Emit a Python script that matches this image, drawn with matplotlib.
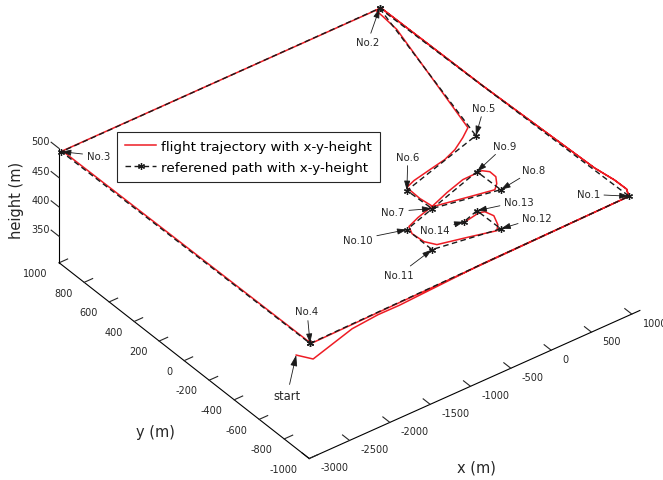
import matplotlib
matplotlib.use("Agg")
import matplotlib.pyplot as plt
from mpl_toolkits.mplot3d import proj3d

plt.rcParams["font.family"] = ["DejaVu Sans"]
plt.rcParams["axes.unicode_minus"] = False

# ---- waypoints of the planned route (metres) ----
wp_names = ["No.1", "No.2", "No.3", "No.4", "No.5", "No.6", "No.7",
            "No.8", "No.9", "No.10", "No.11", "No.12", "No.13", "No.14"]
wp_x = [1045, 970, -2985, -2955, 446, -651, -635, 98, 91, -1044, -1048, -295, -302, -515]
wp_y = [-950, 998, 992, -978, -110, -266, -456, -534, -347, -520, -723, -788, -601, -635]
wp_z = [495, 495, 495, 495, 495, 495, 495, 495, 495, 495, 495, 495, 495, 495]

# order in which the reference path visits the waypoints
ref_outer = ["No.4", "No.1", "No.2", "No.3", "No.4"]
ref_inner = ["No.2", "No.5", "No.6", "No.7", "No.8", "No.9", "No.10",
             "No.11", "No.12", "No.13", "No.14"]

# ---- recorded flight trajectory (metres) ----
fly_x = [-2946, -2911, -2387, -2100, -1865, -800, 1040, 1097, 1093, 1057, 1003, 985,
         -2969, -2948, -2921, -800, 1040, 1097, 1093, 1057, 1003, 985,
         920, 914, 893, 464, 323, 140, -40, -258, -495, -621,
         -629, -607, -216, 51, 127, 190, 193, 140, -100, -356, -597, -836, -998,
         -1045, -1031, -959, -619, -346, -278, -219, -249, -307, -437, -507]
fly_y = [-861, -974, -948, -970, -990, -962, -950, -896, -802, -666, 200, 996,
         994, -951, -981, -965, -950, -896, -802, -666, 200, 996,
         996, 937, 811, -35, -85, -140, -175, -197, -222, -246,
         -356, -446, -489, -517, -483, -435, -385, -355, -358, -396, -440, -474, -506,
         -561, -648, -705, -750, -789, -753, -683, -631, -620, -632, -638]
fly_z = [455, 465, 480, 490, 495, 495, 495, 495, 495, 495, 495, 495,
         495, 495, 495, 495, 495, 495, 495, 495, 495, 495,
         495, 495, 495, 495, 495, 495, 495, 495, 495, 495,
         495, 495, 495, 495, 495, 495, 495, 495, 495, 495, 495, 495, 495,
         495, 495, 495, 495, 495, 495, 495, 495, 495, 495, 495]

x_ticks = [-3000, -2500, -2000, -1500, -1000, -500, 0, 500, 1000]
y_ticks = [-1000, -800, -600, -400, -200, 0, 200, 400, 600, 800, 1000]
z_ticks = [350, 400, 450, 500]

# label placement (offset of the text from the marked point, in points)
label_offsets = {
    "No.1": (-29.5, 1.4), "No.2": (-8.6, -24.5), "No.3": (26.6, -2.9),
    "No.4": (-2.2, 23.0), "No.5": (5.8, 20.2), "No.6": (0.7, 24.5),
    "No.7": (-28.0, -2.2), "No.8": (23.8, 14.4), "No.9": (20.2, 18.7),
    "No.10": (-35.3, -7.2), "No.11": (-23.8, -18.0), "No.12": (26.0, 7.9),
    "No.13": (30.2, 6.5), "No.14": (-20.9, -5.8),
}

W, H = 663, 481
fig = plt.figure(figsize=(W / 100, H / 100), dpi=100)
S = 609.3
cx, cy = 349.5, 481 - 230.5
ax = fig.add_axes([(cx - 0.5135 * S) / W, (cy - 0.5135 * S) / H, S / W, S / H],
                  projection="3d")
ax.set_proj_type("ortho")
ax.view_init(elev=36.3, azim=-127.1)
ax.set_box_aspect((1, 1, 0.342), zoom=0.961)

ink = "#262626"
tick_len = {"x": 0.35, "y": 0.32, "z": 0.4}
for name, axis in (("x", ax.xaxis), ("y", ax.yaxis), ("z", ax.zaxis)):
    axis.set_pane_color((1, 1, 1, 0))
    axis.pane.set_edgecolor((1, 1, 1, 0))
    axis._axinfo["tick"]["inward_factor"] = 0.0
    axis._axinfo["tick"]["outward_factor"] = tick_len[name]
    axis._axinfo["tick"]["linewidth"] = {True: 0.8, False: 0.5}
    axis._axinfo["tick"]["color"] = ink
    axis._axinfo["axisline"]["color"] = ink
    axis._axinfo["axisline"]["linewidth"] = 0.8
# tick labels sit straight out from their axis, z ticks point along y
ax.xaxis._axmask = lambda: [False, True, False]
ax.yaxis._axmask = lambda: [True, False, False]
ax.zaxis._axmask = lambda: [False, True, False]
ax.zaxis._get_tickdir = lambda *args: 1
ax.grid(False)

idx = {n: i for i, n in enumerate(wp_names)}

def route(names):
    return ([wp_x[idx[n]] for n in names], [wp_y[idx[n]] for n in names],
            [wp_z[idx[n]] for n in names])

ax.plot(fly_x, fly_y, fly_z, color="#ee1c24", lw=1.1,
        label="flight trajectory with x-y-height")
dash = dict(color="#1a1a1a", lw=1.0, ls=(0, (4, 2.5)), marker=(6, 2, 0), ms=5, mew=0.9)
ox, oy, oz = route(ref_outer)
ax.plot(ox, oy, oz, label="referened path with x-y-height", **dash)
ix, iy, iz = route(ref_inner)
ax.plot(ix, iy, iz, **dash)

ax.set_xlim(-3000, 1100)
ax.set_ylim(-1000, 1000)
ax.set_zlim(305, 500)
ax.set_xticks(x_ticks, [str(v) for v in x_ticks], ha="left", va="center")
ax.set_yticks(y_ticks, [str(v) for v in y_ticks], ha="right", va="top")
ax.set_zticks(z_ticks, [str(v) for v in z_ticks], ha="right", va="center")
ax.tick_params(labelsize=7, colors=ink)
ax.tick_params(axis="x", pad=2)
ax.tick_params(axis="y", pad=0)
ax.tick_params(axis="z", pad=0.5)

M = ax.get_proj()
arrow = dict(arrowstyle="-|>,head_length=0.8,head_width=0.25", color="#1a1a1a",
             lw=0.6, shrinkA=1, shrinkB=0)
for n in wp_names:
    i = idx[n]
    px, py, _ = proj3d.proj_transform(wp_x[i], wp_y[i], wp_z[i], M)
    ax.annotate(n, xy=(px, py), xycoords="data", xytext=label_offsets[n],
                textcoords="offset points", ha="center", va="center",
                fontsize=7.3, color=ink, arrowprops=arrow, annotation_clip=False)
sx, sy, _ = proj3d.proj_transform(fly_x[0], fly_y[0], fly_z[0], M)
ax.annotate("start", xy=(sx, sy), xycoords="data", xytext=(-6.5, -28.8),
            textcoords="offset points", ha="center", va="center",
            fontsize=8.3, color=ink, arrowprops=arrow, annotation_clip=False)

fig.text(476 / W, 1 - 468 / H, "x (m)", ha="center", va="center", fontsize=10.5, color=ink)
fig.text(155 / W, 1 - 432 / H, "y (m)", ha="center", va="center", fontsize=10.5, color=ink)
fig.text(17 / W, 1 - 200 / H, "height (m)", ha="center", va="center", rotation=90,
         fontsize=10.5, color=ink)

leg = ax.legend(loc="upper left", bbox_to_anchor=(117 / W, 1 - 133 / H),
                bbox_transform=fig.transFigure, fontsize=9.7, frameon=True,
                fancybox=False, edgecolor=ink, framealpha=1, handlelength=2.3,
                borderpad=0.6, labelspacing=0.6, handletextpad=0.4, borderaxespad=0)
leg.get_frame().set_linewidth(0.8)

fig.savefig("out.png", dpi=100)
